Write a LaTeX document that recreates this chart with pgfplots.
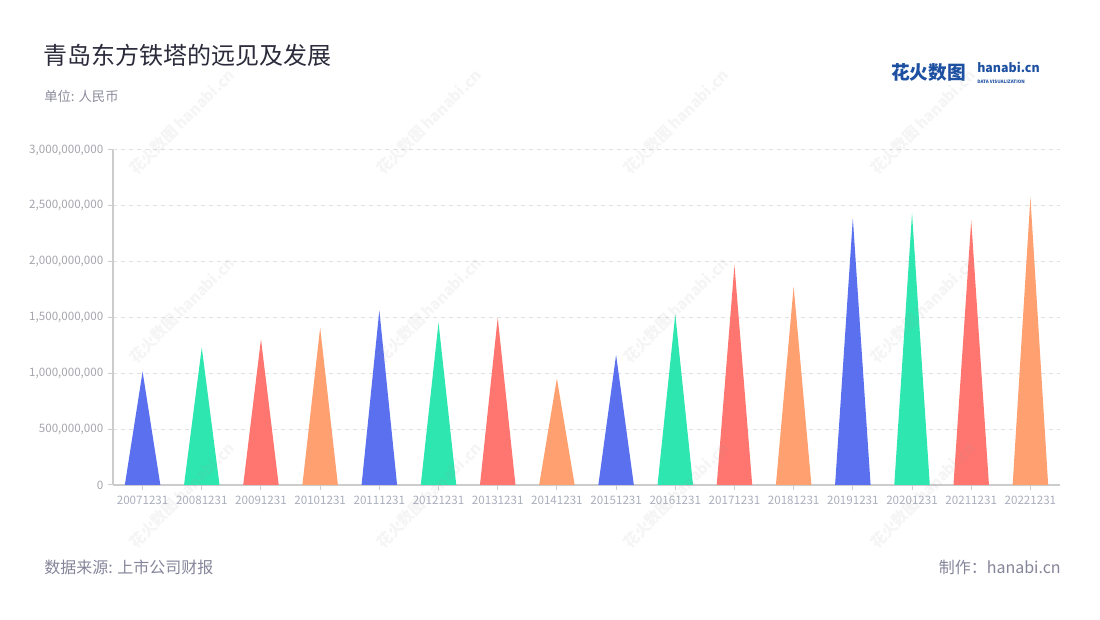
\documentclass[border=0pt]{standalone}
\usepackage{fontspec}
\setmainfont{Noto Sans CJK SC}
\usepackage{pgfplots}
\pgfplotsset{compat=1.18}

\definecolor{cblue}{HTML}{5A70EE}
\definecolor{cgreen}{HTML}{2EE6B0}
\definecolor{cred}{HTML}{FF7670}
\definecolor{corange}{HTML}{FFA071}
\definecolor{titlec}{HTML}{2B2B3B}
\definecolor{subc}{HTML}{8C8C9C}
\definecolor{footc}{HTML}{85859A}
\definecolor{tickc}{HTML}{A4A4AC}
\definecolor{xtickc}{HTML}{A9AEBC}
\definecolor{axisc}{HTML}{CCCCCC}
\definecolor{gridc}{HTML}{E0E0E0}
\definecolor{logoc}{HTML}{1E50A2}

\tikzset{
  tri/.style={draw=none, fill=#1},
  wm/.style={rotate=45, text=black!40, text opacity=0.1,
    font=\fontsize{11.5}{12}\selectfont\bfseries, inner sep=0},
}

\begin{document}
\begin{tikzpicture}[x=0.75pt,y=0.75pt]
\path[use as bounding box] (0,0) rectangle (1100,620);

% titles
\node[anchor=west, inner sep=0, text=titlec, font=\fontsize{18}{20}\selectfont] at (43,565) {青岛东方铁塔的远见及发展};
\node[anchor=west, inner sep=0, text=subc, font=\fontsize{10}{12}\selectfont] at (44,524) {单位: 人民币};

% logo
\node[anchor=west, inner sep=0, text=logoc, font=\fontsize{14}{14}\selectfont\bfseries] at (891,548) {花火数图};
\node[anchor=west, inner sep=0, text=logoc, font=\fontsize{9.3}{10}\selectfont\bfseries] at (977,553) {hanabi.cn};
\node[anchor=west, inner sep=0, text=logoc, font=\fontsize{3.4}{4}\selectfont\bfseries] at (977,538.5) {DATA VISUALIZATION};

\begin{axis}[
  at={(84.75pt,101.25pt)}, anchor=south west,
  scale only axis, width=710.25pt, height=251.25pt,
  xmin=-0.5, xmax=15.5, ymin=0, ymax=3e9,
  axis x line*=bottom, axis y line*=left,
  axis line style={draw=axisc, line width=1.1pt, -},
  xtick={0,...,15},
  xticklabels={20071231,20081231,20091231,20101231,20111231,20121231,20131231,20141231,
    20151231,20161231,20171231,20181231,20191231,20201231,20211231,20221231},
  ytick={0,5e8,1e9,1.5e9,2e9,2.5e9,3e9},
  scaled y ticks=false,
  y tick label style={/pgf/number format/fixed, /pgf/number format/precision=0,
    /pgf/number format/1000 sep={,}},
  /pgf/number format/assume math mode=true,
  tick align=outside,
  major tick length=3.75pt,
  tick style={draw=axisc, line width=0.75pt},
  tick label style={font=\fontsize{8.7}{10}\selectfont},
  x tick label style={text=xtickc, yshift=-1pt},
  y tick label style={text=tickc},
  ymajorgrids=true,
  major grid style={draw=gridc, line width=0.75pt, dash pattern=on 3pt off 3pt},
  clip=false,
]
\addplot[tri=cblue]   coordinates {(-0.3,0) (0,1015000000) (0.3,0)} -- cycle;
\addplot[tri=cgreen]  coordinates {(0.7,0) (1,1230000000) (1.3,0)} -- cycle;
\addplot[tri=cred]    coordinates {(1.7,0) (2,1305000000) (2.3,0)} -- cycle;
\addplot[tri=corange] coordinates {(2.7,0) (3,1409000000) (3.3,0)} -- cycle;
\addplot[tri=cblue]   coordinates {(3.7,0) (4,1564000000) (4.3,0)} -- cycle;
\addplot[tri=cgreen]  coordinates {(4.7,0) (5,1454000000) (5.3,0)} -- cycle;
\addplot[tri=cred]    coordinates {(5.7,0) (6,1498000000) (6.3,0)} -- cycle;
\addplot[tri=corange] coordinates {(6.7,0) (7,954000000) (7.3,0)} -- cycle;
\addplot[tri=cblue]   coordinates {(7.7,0) (8,1165000000) (8.3,0)} -- cycle;
\addplot[tri=cgreen]  coordinates {(8.7,0) (9,1529000000) (9.3,0)} -- cycle;
\addplot[tri=cred]    coordinates {(9.7,0) (10,1969000000) (10.3,0)} -- cycle;
\addplot[tri=corange] coordinates {(10.7,0) (11,1778000000) (11.3,0)} -- cycle;
\addplot[tri=cblue]   coordinates {(11.7,0) (12,2389000000) (12.3,0)} -- cycle;
\addplot[tri=cgreen]  coordinates {(12.7,0) (13,2434000000) (13.3,0)} -- cycle;
\addplot[tri=cred]    coordinates {(13.7,0) (14,2369000000) (14.3,0)} -- cycle;
\addplot[tri=corange] coordinates {(14.7,0) (15,2577000000) (15.3,0)} -- cycle;
\end{axis}

% watermarks
\foreach \cx in {182,429,676,923}{
  \foreach \cy in {122,310,495}{
    \node[wm] at (\cx,620-\cy) {花火数图\,hanabi.cn};
  }
}

% footer
\node[anchor=west, inner sep=0, text=footc, font=\fontsize{12}{14}\selectfont] at (44,53) {数据来源: 上市公司财报};
\node[anchor=east, inner sep=0, text=footc, font=\fontsize{12}{14}\selectfont] at (1061,53) {制作：hanabi.cn};
\end{tikzpicture}
\end{document}
